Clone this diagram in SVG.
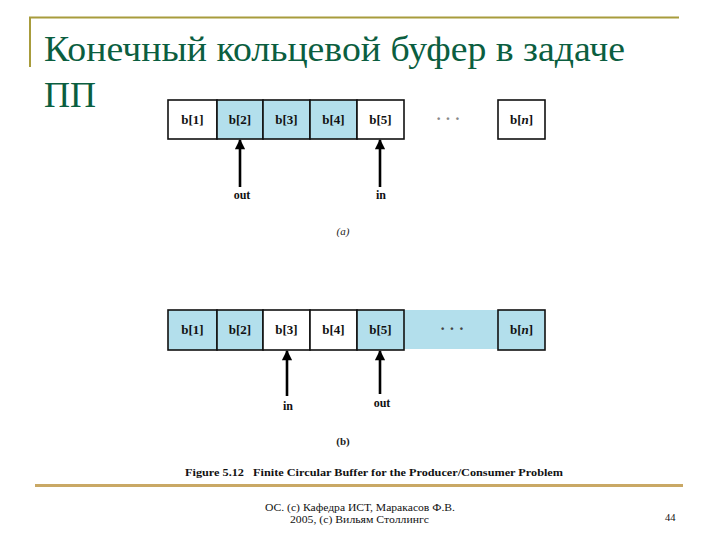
<svg xmlns="http://www.w3.org/2000/svg" width="720" height="540" viewBox="0 0 720 540">
<style>
.title{font-family:"Liberation Serif","DejaVu Serif",serif;font-size:36px;fill:#0b5e40}
.cell{stroke:#111;stroke-width:1.6}
.w{fill:#fff}
.b{fill:#b3dfec}
.lbl{font-family:"Liberation Serif","DejaVu Serif",serif;font-size:13px;font-weight:bold;fill:#111;text-anchor:middle}
.dots{font-family:"Liberation Serif","DejaVu Serif",serif;font-size:16px;font-weight:bold;text-anchor:middle}
.cap{font-family:"Liberation Serif","DejaVu Serif",serif;font-size:11px;font-style:italic;fill:#222;text-anchor:middle}
.arr{stroke:#000;stroke-width:2.6;fill:none}
.foot{font-family:"Liberation Serif","DejaVu Serif",serif;font-size:10.5px;fill:#111}
</style>
<defs>
<marker id="ah" viewBox="0 0 10 10" refX="9" refY="5" markerWidth="4.2" markerHeight="4" orient="auto" markerUnits="strokeWidth">
<path d="M0,0 L10,5 L0,10 Z" fill="#000"/>
</marker>
</defs>
<rect width="720" height="540" fill="#fff"/>
<g id="frame">
<line x1="29" y1="17.5" x2="679" y2="17.5" stroke="#a89c3c" stroke-width="2"/>
<line x1="30" y1="17" x2="30" y2="67" stroke="#a89c3c" stroke-width="2"/>
<line x1="35" y1="485.5" x2="683" y2="485.5" stroke="#c9a865" stroke-width="3"/>
</g>
<g id="title">
<text class="title" x="44" y="61" textLength="581" lengthAdjust="spacingAndGlyphs">Конечный кольцевой буфер в задаче</text>
<text class="title" x="44" y="107">ПП</text>
</g>
<g id="buffer-a">
<g id="a1"><rect class="cell w" x="168" y="100" width="49" height="39"/><text class="lbl" x="192.5" y="124">b[1]</text></g>
<g id="a2"><rect class="cell b" x="217" y="100" width="46" height="39"/><text class="lbl" x="240" y="124">b[2]</text></g>
<g id="a3"><rect class="cell b" x="263" y="100" width="47" height="39"/><text class="lbl" x="286.5" y="124">b[3]</text></g>
<g id="a4"><rect class="cell b" x="310" y="100" width="47" height="39"/><text class="lbl" x="333.5" y="124">b[4]</text></g>
<g id="a5"><rect class="cell w" x="357" y="100" width="47" height="39"/><text class="lbl" x="380.5" y="124">b[5]</text></g>
<text class="dots" x="448" y="124" style="fill:#888">·  ·  ·</text>
<g id="an"><rect class="cell w" x="498" y="100" width="47" height="39"/><text class="lbl" x="521.5" y="124">b[<tspan font-style="italic">n</tspan>]</text></g>
</g>
<g id="buffer-b">
<rect class="b" x="404" y="310" width="94" height="39"/>
<g id="b1"><rect class="cell b" x="168" y="310" width="49" height="40"/><text class="lbl" x="192.5" y="334">b[1]</text></g>
<g id="b2"><rect class="cell b" x="217" y="310" width="46" height="40"/><text class="lbl" x="240" y="334">b[2]</text></g>
<g id="b3"><rect class="cell w" x="263" y="310" width="47" height="40"/><text class="lbl" x="286.5" y="334">b[3]</text></g>
<g id="b4"><rect class="cell w" x="310" y="310" width="47" height="40"/><text class="lbl" x="333.5" y="334">b[4]</text></g>
<g id="b5"><rect class="cell b" x="357" y="310" width="47" height="40"/><text class="lbl" x="380.5" y="334">b[5]</text></g>
<text class="dots" x="452" y="334" style="fill:#444">·  ·  ·</text>
<g id="bn"><rect class="cell b" x="498" y="310" width="47" height="40"/><text class="lbl" x="521.5" y="334">b[<tspan font-style="italic">n</tspan>]</text></g>
</g>
<g id="connectors">
<line class="arr" x1="240" y1="187" x2="240" y2="140" marker-end="url(#ah)"/>
<line class="arr" x1="380" y1="187" x2="380" y2="140" marker-end="url(#ah)"/>
<line class="arr" x1="287" y1="396" x2="287" y2="351" marker-end="url(#ah)"/>
<line class="arr" x1="380" y1="394" x2="380" y2="351" marker-end="url(#ah)"/>
</g>
<g id="labels">
<text class="lbl" x="242" y="199" style="font-size:12px">out</text>
<text class="lbl" x="381" y="199" style="font-size:12px">in</text>
<text class="cap" x="343" y="235">(a)</text>
<text class="lbl" x="288" y="410" style="font-size:12px">in</text>
<text class="lbl" x="382" y="407" style="font-size:12px">out</text>
<text class="cap" x="343" y="445" style="font-style:normal;font-weight:bold">(b)</text>
<text class="lbl" x="374" y="476" style="font-size:11px;white-space:pre" xml:space="preserve" textLength="378" lengthAdjust="spacingAndGlyphs">Figure 5.12   Finite Circular Buffer for the Producer/Consumer Problem</text>
</g>
<g id="footer">
<text class="foot" x="265" y="511" textLength="190" lengthAdjust="spacingAndGlyphs">ОС. (с) Кафедра ИСТ, Маракасов Ф.В.</text>
<text class="foot" x="290" y="523" textLength="139" lengthAdjust="spacingAndGlyphs">2005, (с) Вильям Столлингс</text>
<text class="foot" x="665" y="521">44</text>
</g>
</svg>
